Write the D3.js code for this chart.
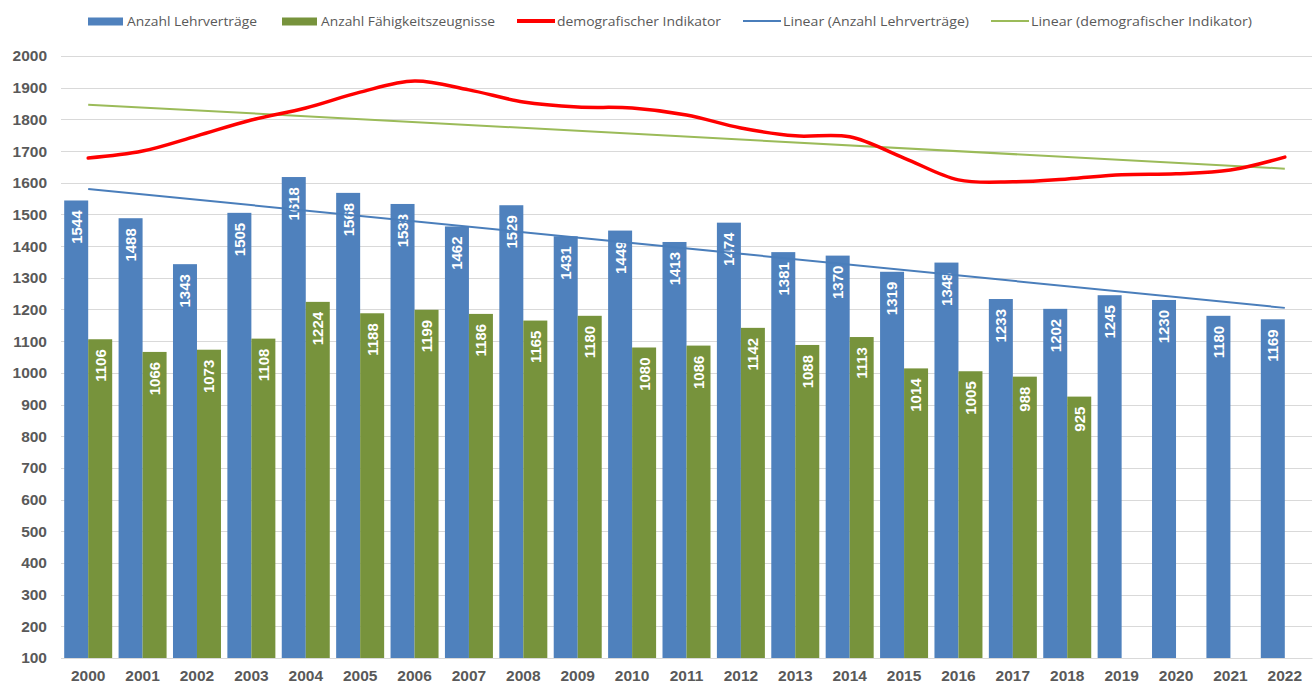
<!DOCTYPE html>
<html>
<head>
<meta charset="utf-8">
<script src="https://cdn.jsdelivr.net/npm/d3@7"></script>
<style>
	body { margin: 0; background: #fff; }
	svg { display: block; }
</style>
</head>
<body>
<div id="chart"></div>
<script>
// data
var years = ["2000","2001","2002","2003","2004","2005","2006","2007","2008","2009","2010","2011",
	"2012","2013","2014","2015","2016","2017","2018","2019","2020","2021","2022"];
var lehrvertraege = [1544,1488,1343,1505,1618,1568,1533,1462,1529,1431,1449,1413,
	1474,1381,1370,1319,1348,1233,1202,1245,1230,1180,1169];
var faehigkeitszeugnisse = [1106,1066,1073,1108,1224,1188,1199,1186,1165,1180,1080,1086,
	1142,1088,1113,1014,1005,988,925];
var indikator = [1678,1700,1748,1798,1836,1886,1921,1893,1855,1839,1836,1814,
	1773,1748,1745,1678,1609,1603,1612,1625,1628,1640,1681];
var yTicks = [100,200,300,400,500,600,700,800,900,1000,1100,1200,1300,1400,1500,1600,1700,1800,1900,2000];
var seriesNames = ["Anzahl Lehrverträge", "Anzahl Fähigkeitszeugnisse", "demografischer Indikator",
	"Linear (Anzahl Lehrverträge)", "Linear (demografischer Indikator)"];

var width = 1315,
	height = 686;

var svg = d3.select("#chart").append("svg")
	.attr("width", width)
	.attr("height", height);

var x = d3.scaleBand().domain(years).range([61, 1312]).paddingInner(0).paddingOuter(0);
var y = d3.scaleLinear().domain([100, 2000]).range([658, 56]);

var bw = x.bandwidth(),
	barW = (bw - 6.4) / 2;

// gridlines
svg.append("g").selectAll("line")
	.data(yTicks)
	.enter().append("line")
	.attr("x1", x.range()[0]).attr("x2", x.range()[1])
	.attr("y1", function(d) { return Math.round(y(d)) + 0.5; })
	.attr("y2", function(d) { return Math.round(y(d)) + 0.5; })
	.attr("stroke", "#d9d9d9")
	.attr("stroke-width", 1);

// y axis labels
var yAxis = d3.axisLeft(y).tickValues(yTicks).tickFormat(d3.format("d")).tickSize(0).tickPadding(12);
var gy = svg.append("g").attr("transform", "translate(59,0)").call(yAxis);
gy.select(".domain").remove();
gy.selectAll("text")
	.attr("fill", "#595959")
	.style("font", "bold 15.5px 'Liberation Sans', Arial, sans-serif");

// x axis labels
var xAxis = d3.axisBottom(x).tickSize(0).tickPadding(12);
var gx = svg.append("g").attr("transform", "translate(0,658)").call(xAxis);
gx.select(".domain").attr("stroke", "#d9d9d9");
gx.selectAll("text")
	.attr("fill", "#595959")
	.style("font", "bold 15.5px 'Liberation Sans', Arial, sans-serif");

// bars
function barX(i, k) { return x(years[i]) + 3.2 + k * barW; }

var blue = svg.append("g").selectAll("g")
	.data(lehrvertraege)
	.enter().append("g");
blue.append("rect")
	.attr("x", function(d, i) { return barX(i, 0); })
	.attr("y", function(d) { return y(d); })
	.attr("width", barW)
	.attr("height", function(d) { return y(100) - y(d); })
	.attr("fill", "#4f81bd");

var green = svg.append("g").selectAll("g")
	.data(faehigkeitszeugnisse)
	.enter().append("g");
green.append("rect")
	.attr("x", function(d, i) { return barX(i, 1); })
	.attr("y", function(d) { return y(d); })
	.attr("width", barW)
	.attr("height", function(d) { return y(100) - y(d); })
	.attr("fill", "#77933c");

function label(sel, k) {
	sel.append("text")
		.attr("transform", function(d, i) {
			return "translate(" + (barX(i, k) + barW / 2) + "," + (y(d) + 10) + ") rotate(-90)";
		})
		.attr("text-anchor", "end")
		.attr("dy", "0.36em")
		.attr("fill", "#fff")
		.style("font", "bold 15px 'Liberation Sans', Arial, sans-serif")
		.text(function(d) { return d; });
}
label(blue, 0);
label(green, 1);

// trend lines (least squares)
function trend(vals) {
	var n = vals.length,
		mx = d3.mean(vals, function(d, i) { return i; }),
		my = d3.mean(vals),
		sxy = d3.sum(vals, function(d, i) { return (i - mx) * (d - my); }),
		sxx = d3.sum(vals, function(d, i) { return (i - mx) * (i - mx); }),
		b = sxy / sxx;
	return [[0, my - b * mx], [n - 1, my + b * (n - 1 - mx)]];
}
function cx(i) { return x(years[i]) + bw / 2; }

var line = d3.line()
	.x(function(d) { return cx(d[0]); })
	.y(function(d) { return y(d[1]); });

svg.append("path")
	.attr("d", line(trend(lehrvertraege)))
	.attr("fill", "none")
	.attr("stroke", "#4a7ebb")
	.attr("stroke-width", 2);

svg.append("path")
	.attr("d", line(trend(indikator)))
	.attr("fill", "none")
	.attr("stroke", "#9bbb59")
	.attr("stroke-width", 2);

// demographic indicator
var smooth = d3.line()
	.x(function(d, i) { return cx(i); })
	.y(function(d) { return y(d); })
	.curve(d3.curveCatmullRom.alpha(0.5));

svg.append("path")
	.attr("d", smooth(indikator))
	.attr("fill", "none")
	.attr("stroke", "#ff0000")
	.attr("stroke-width", 3.5)
	.attr("stroke-linecap", "round");

// legend
var legendItems = [
	{ name: seriesNames[0], type: "rect", color: "#4f81bd", x: 88, w: 130 },
	{ name: seriesNames[1], type: "rect", color: "#77933c", x: 282, w: 174 },
	{ name: seriesNames[2], type: "line", color: "#ff0000", x: 517, sw: 4, w: 164 },
	{ name: seriesNames[3], type: "line", color: "#4a7ebb", x: 743, sw: 2, w: 186 },
	{ name: seriesNames[4], type: "line", color: "#9bbb59", x: 991, sw: 2, w: 221 }
];
var lg = svg.append("g").selectAll("g")
	.data(legendItems)
	.enter().append("g")
	.attr("transform", function(d) { return "translate(" + d.x + ",0)"; });
lg.filter(function(d) { return d.type == "rect"; }).append("rect")
	.attr("x", 0).attr("y", 17.5).attr("width", 35).attr("height", 8)
	.attr("fill", function(d) { return d.color; });
lg.filter(function(d) { return d.type == "line"; }).append("line")
	.attr("x1", 0).attr("x2", 38).attr("y1", 21).attr("y2", 21)
	.attr("stroke", function(d) { return d.color; })
	.attr("stroke-width", function(d) { return d.sw; });
lg.append("text")
	.attr("x", function(d) { return d.type == "rect" ? 39 : 40; })
	.attr("y", 26)
	.attr("fill", "#595959")
	.attr("textLength", function(d) { return d.w; })
	.attr("lengthAdjust", "spacingAndGlyphs")
	.style("font", "13.5px 'Open Sans', sans-serif")
	.text(function(d) { return d.name; });
</script>
</body>
</html>
